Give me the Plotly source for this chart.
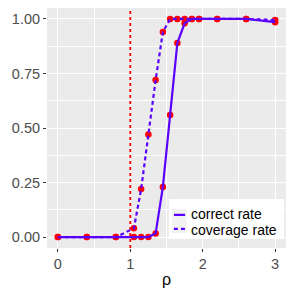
import plotly.graph_objects as go

rho = [0, 0.4, 0.8, 1.05, 1.15, 1.25, 1.35, 1.45, 1.55, 1.65, 1.75, 1.85, 1.95, 2.2, 2.6, 3.0]
correct_rate = [0, 0, 0, 0, 0, 0, 0.017, 0.23, 0.56, 0.89, 0.98, 1.0, 1.0, 1.0, 1.0, 0.985]
coverage_rate = [0, 0, 0, 0.04, 0.22, 0.47, 0.72, 0.94, 1.0, 1.0, 1.0, 1.0, 1.0, 1.0, 1.0, 0.995]
threshold = [1.0, 1.0]
threshold_y = [-0.05, 1.05]
series_names = ["correct rate", "coverage rate"]

LINE = "#5A00FF"
DASH = "4px,3px"
FONT = "Liberation Sans, Arial, sans-serif"
fig = go.Figure()
fig.add_trace(go.Scatter(x=threshold, y=threshold_y, mode="lines", showlegend=False,
                         line=dict(color="#FF0000", width=1.8, dash="dot"), hoverinfo="skip"))
for ys in (correct_rate, coverage_rate):
    fig.add_trace(go.Scatter(x=rho, y=ys, mode="markers", showlegend=False,
                             marker=dict(color="#FF0000", size=6.5)))
fig.add_trace(go.Scatter(x=rho, y=correct_rate, mode="lines", name=series_names[0], showlegend=False,
                         line=dict(color=LINE, width=2.2)))
fig.add_trace(go.Scatter(x=rho, y=coverage_rate, mode="lines", name=series_names[1], showlegend=False,
                         line=dict(color=LINE, width=2.2, dash=DASH)))

# ggplot-style legend (panel-relative paper coordinates)
fig.add_shape(type="rect", xref="paper", yref="paper", x0=0.510, x1=0.992, y0=0.0375, y1=0.204,
              fillcolor="white", line=dict(width=0), layer="above")
fig.add_shape(type="rect", xref="paper", yref="paper", x0=0.524, x1=0.584, y0=0.062, y1=0.162,
              fillcolor="#F2F2F2", line=dict(width=0), layer="above")
key_y = [0.138, 0.080]
text_y = [0.1417, 0.075]
for name, ky, ty, dash in zip(series_names, key_y, text_y, ["solid", DASH]):
    fig.add_shape(type="line", xref="paper", yref="paper", x0=0.531, x1=0.578, y0=ky, y1=ky,
                  line=dict(color=LINE, width=2.2, dash=dash), layer="above")
    fig.add_annotation(xref="paper", yref="paper", x=0.6, y=ty, text=name, showarrow=False,
                       xanchor="left", yanchor="middle", borderpad=0,
                       font=dict(family=FONT, size=14, color="black"))

axis_common = dict(showgrid=True, gridcolor="white", gridwidth=1.1, zeroline=False,
                   ticks="outside", ticklen=3, tickcolor="#333333", tickwidth=1,
                   tickfont=dict(family=FONT, size=14.5, color="#4D4D4D"),
                   showline=False, automargin=False)
fig.update_layout(
    width=291, height=291,
    margin=dict(l=47, r=5, t=8, b=43),
    plot_bgcolor="#EBEBEB", paper_bgcolor="white",
    xaxis=dict(range=[-0.15, 3.15], tickvals=[0, 1, 2, 3], ticktext=["0", "1", "2", "3"],
               minor=dict(tickvals=[0.5, 1.5, 2.5], showgrid=True, gridcolor="white", gridwidth=0.5, ticks=""),
               title=dict(text="ρ", font=dict(family=FONT, size=16, color="black"), standoff=2),
               **axis_common),
    yaxis=dict(range=[-0.05, 1.05], tickvals=[0, 0.25, 0.5, 0.75, 1.0],
               ticktext=["0.00", "0.25", "0.50", "0.75", "1.00"],
               minor=dict(tickvals=[0.125, 0.375, 0.625, 0.875], showgrid=True, gridcolor="white", gridwidth=0.5, ticks=""),
               **axis_common),
    showlegend=False,
)
fig.write_html("out.html", config={"displayModeBar": False},
               post_script="document.body.style.margin='0';document.body.style.padding='0';")
